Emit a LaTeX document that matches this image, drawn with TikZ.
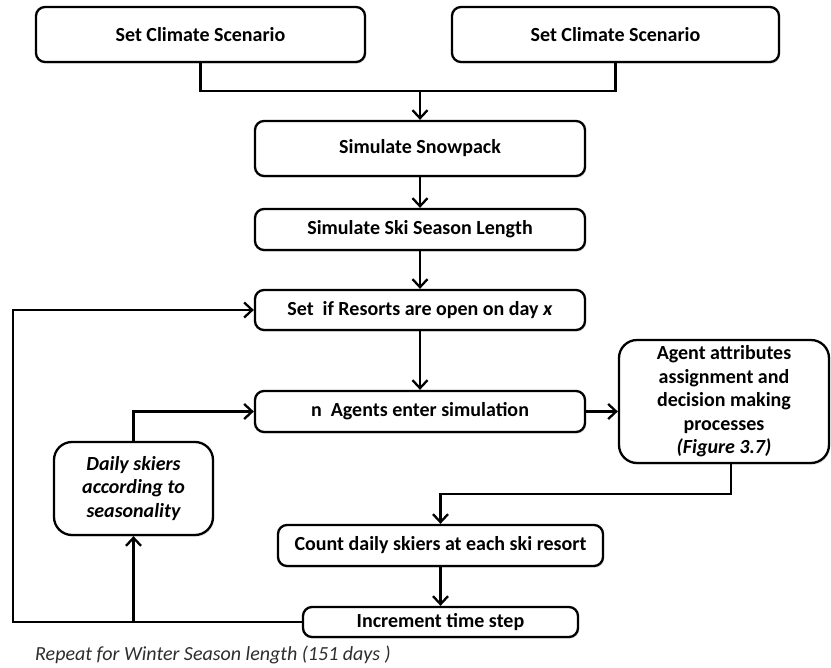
\documentclass[tikz,border=0pt]{standalone}
\usepackage{fontspec}
\setmainfont{Carlito}
\usetikzlibrary{arrows.meta,shadows}
\begin{document}
\begin{tikzpicture}[x=1pt,y=-1pt,
  box/.style={draw=black, line width=2.3pt, fill=white, rectangle, rounded corners=9pt,
    inner sep=0pt, align=center, font=\fontsize{20}{23.5}\selectfont\bfseries,
    drop shadow={shadow xshift=1.2pt, shadow yshift=-1.8pt, opacity=0.18}},
  bigbox/.style={box, rounded corners=18pt},
  conn/.style={draw=black, line width=2.3pt},
  arr/.style={conn, -{Straight Barb[length=8pt,width=15pt,line width=2.3pt]}}
]
\useasboundingbox (0,0) rectangle (831,668);
\fill[white] (0,0) rectangle (831,668);

\node[box, minimum width=329pt, minimum height=55pt] (b1) at (200.5,34.5) {Set Climate Scenario};
\node[box, minimum width=327pt, minimum height=55pt] (b2) at (615.5,34.5) {Set Climate Scenario};
\node[box, minimum width=330pt, minimum height=55pt] (b3) at (420,148.5) {Simulate Snowpack};
\node[box, minimum width=330pt, minimum height=41pt] (b4) at (420,229.5) {Simulate Ski Season Length};
\node[box, minimum width=330pt, minimum height=40pt] (b5) at (420,310) {Set\ \ if Resorts are open on day \textit{x}};
\node[box, minimum width=330pt, minimum height=41pt] (b6) at (420,411.5) {n\ \ Agents enter simulation};
\node[bigbox, minimum width=210pt, minimum height=123pt] (b7) at (724,401.5) {Agent attributes\\assignment and\\decision making\\processes\\\textit{(Figure 3.7)}};
\node[box, minimum width=325pt, minimum height=41pt] (b8) at (440.5,545.5) {Count daily skiers at each ski resort};
\node[box, minimum width=275pt, minimum height=30pt] (b9) at (440.5,622) {Increment time step};
\node[bigbox, minimum width=159pt, minimum height=93pt] (b10) at (133.5,488.5) {\itshape Daily skiers\\\itshape according to\\\itshape seasonality};
\node[anchor=west, inner sep=0pt, text=black!82, font=\fontsize{20}{23}\selectfont\itshape] (cap) at (35,655) {Repeat for Winter Season length (151 days )};

\coordinate (j) at (420,91);
\draw[conn] (b1.south) |- (j);
\draw[conn] (b2.south) |- (j);
\draw[arr] (j) -- (b3.north);
\draw[arr] (b3) -- (b4);
\draw[arr] (b4) -- (b5);
\draw[arr] (b5) -- (b6);
\draw[arr] (b6.east) -- (b6.east -| b7.west);
\coordinate (k) at (440.5,494);
\draw[arr] ([xshift=7pt]b7.south) |- (k) -- (b8.north);
\draw[arr] (b8) -- (b9);
\coordinate (l1) at (13,622);
\coordinate (l2) at (13,310);
\draw[arr] (b9.west) -- (l1) -- (l2) -- (b5.west);
\coordinate (br) at (133.5,622);
\draw[arr] (br) -- (b10.south);
\coordinate (br2) at (133.5,411.5);
\draw[arr] (b10.north) -- (br2) -- (b6.west);
\end{tikzpicture}
\end{document}
